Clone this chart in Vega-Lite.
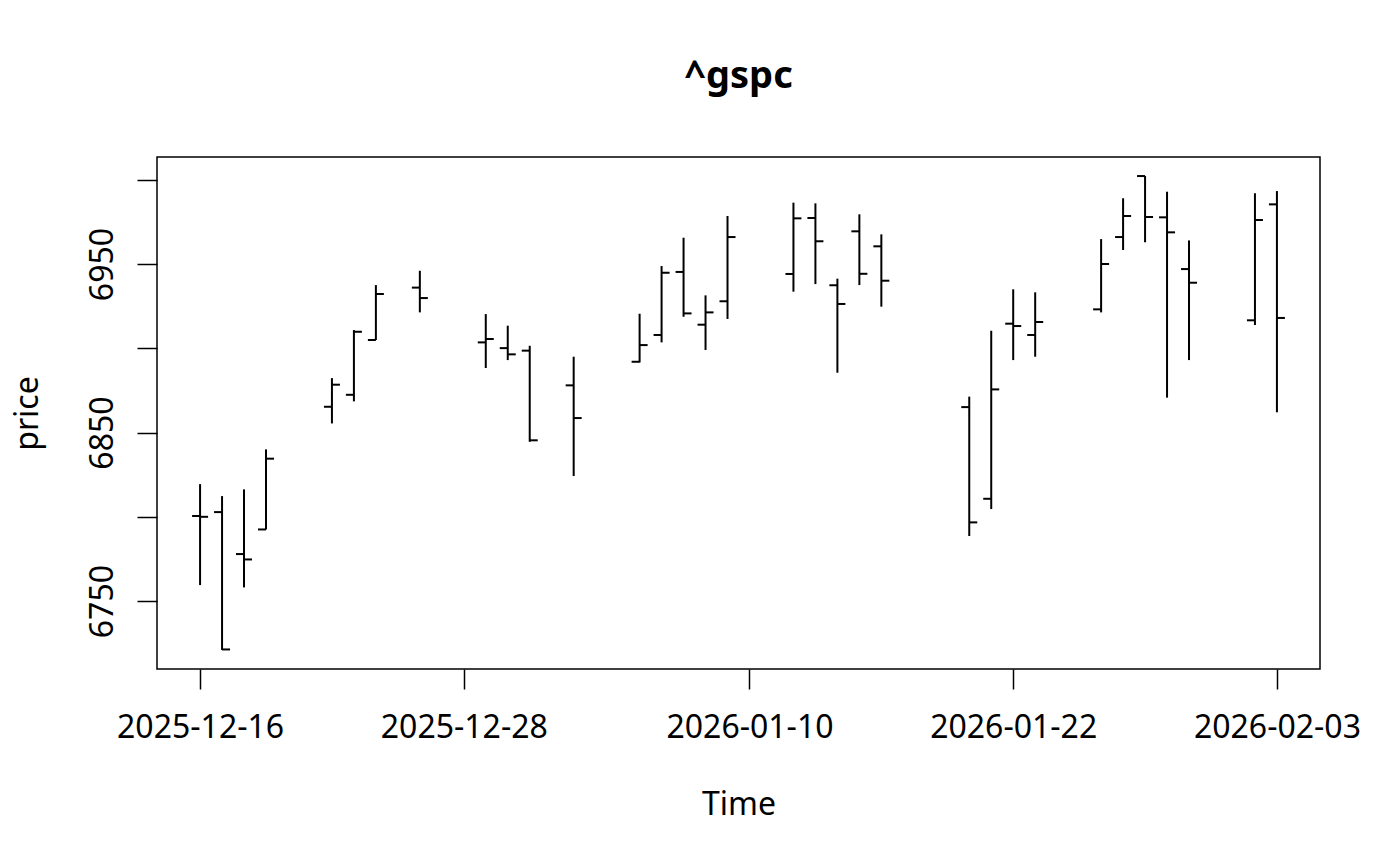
{
  "$schema": "https://vega.github.io/schema/vega-lite/v6.json",
  "width": 1163,
  "height": 512,
  "autosize": {"type": "none"},
  "padding": {"left": 157, "top": 157, "right": 80, "bottom": 197},
  "background": "white",
  "config": {
    "font": "Noto Sans",
    "view": {"stroke": "black", "strokeWidth": 1.5, "fill": "white"}
  },
  "title": {
    "text": "^gspc",
    "font": "Noto Sans",
    "fontSize": 38,
    "fontWeight": "bold",
    "color": "black",
    "anchor": "middle",
    "frame": "group",
    "baseline": "alphabetic",
    "offset": 31
  },
  "data": {
    "values": [
      {"date": "2025-12-16", "open": 6800.5, "high": 6819.4, "low": 6759.5, "close": 6800.0},
      {"date": "2025-12-17", "open": 6802.8, "high": 6812.3, "low": 6721.0, "close": 6721.3},
      {"date": "2025-12-18", "open": 6777.9, "high": 6816.3, "low": 6758.1, "close": 6774.7},
      {"date": "2025-12-19", "open": 6792.5, "high": 6840.0, "low": 6792.5, "close": 6834.5},
      {"date": "2025-12-22", "open": 6865.3, "high": 6882.3, "low": 6855.4, "close": 6878.4},
      {"date": "2025-12-23", "open": 6872.4, "high": 6910.8, "low": 6868.5, "close": 6909.8},
      {"date": "2025-12-24", "open": 6904.9, "high": 6937.5, "low": 6904.9, "close": 6932.2},
      {"date": "2025-12-26", "open": 6936.0, "high": 6946.0, "low": 6921.3, "close": 6929.8},
      {"date": "2025-12-29", "open": 6903.5, "high": 6920.3, "low": 6888.3, "close": 6905.5},
      {"date": "2025-12-30", "open": 6900.1, "high": 6913.4, "low": 6893.0, "close": 6896.4},
      {"date": "2025-12-31", "open": 6898.6, "high": 6901.5, "low": 6844.5, "close": 6845.4},
      {"date": "2026-01-02", "open": 6878.0, "high": 6895.0, "low": 6824.2, "close": 6858.6},
      {"date": "2026-01-05", "open": 6892.0, "high": 6920.5, "low": 6891.6, "close": 6901.9},
      {"date": "2026-01-06", "open": 6907.9, "high": 6948.8, "low": 6903.5, "close": 6944.8},
      {"date": "2026-01-07", "open": 6945.3, "high": 6965.6, "low": 6918.7, "close": 6920.7},
      {"date": "2026-01-08", "open": 6914.0, "high": 6931.4, "low": 6899.0, "close": 6921.3},
      {"date": "2026-01-09", "open": 6927.9, "high": 6978.5, "low": 6917.4, "close": 6966.0},
      {"date": "2026-01-12", "open": 6944.1, "high": 6986.4, "low": 6933.6, "close": 6977.1},
      {"date": "2026-01-13", "open": 6977.3, "high": 6986.0, "low": 6938.1, "close": 6963.5},
      {"date": "2026-01-14", "open": 6937.4, "high": 6941.3, "low": 6885.5, "close": 6926.3},
      {"date": "2026-01-15", "open": 6969.4, "high": 6979.5, "low": 6937.5, "close": 6944.2},
      {"date": "2026-01-16", "open": 6960.5, "high": 6967.6, "low": 6924.7, "close": 6940.1},
      {"date": "2026-01-20", "open": 6865.1, "high": 6871.3, "low": 6788.6, "close": 6796.7},
      {"date": "2026-01-21", "open": 6810.7, "high": 6910.4, "low": 6804.6, "close": 6875.6},
      {"date": "2026-01-22", "open": 6914.6, "high": 6935.0, "low": 6893.0, "close": 6913.2},
      {"date": "2026-01-23", "open": 6907.9, "high": 6933.2, "low": 6895.0, "close": 6915.6},
      {"date": "2026-01-26", "open": 6923.1, "high": 6964.8, "low": 6921.3, "close": 6950.0},
      {"date": "2026-01-27", "open": 6966.0, "high": 6989.0, "low": 6958.3, "close": 6978.5},
      {"date": "2026-01-28", "open": 7002.2, "high": 7002.2, "low": 6962.9, "close": 6977.9},
      {"date": "2026-01-29", "open": 6977.7, "high": 6992.9, "low": 6870.7, "close": 6968.8},
      {"date": "2026-01-30", "open": 6947.0, "high": 6964.0, "low": 6893.0, "close": 6938.9},
      {"date": "2026-02-02", "open": 6916.6, "high": 6992.0, "low": 6913.8, "close": 6976.1},
      {"date": "2026-02-03", "open": 6985.4, "high": 6993.3, "low": 6862.0, "close": 6918.0}
    ]
  },
  "encoding": {
    "x": {
      "field": "date",
      "type": "temporal",
      "title": "Time",
      "scale": {
        "type": "utc",
        "domain": [
          {"year": 2025, "month": 12, "date": 14, "hours": 0, "minutes": 57, "seconds": 36, "utc": true},
          {"year": 2026, "month": 2, "date": 4, "hours": 23, "minutes": 2, "seconds": 24, "utc": true}
        ]
      },
      "axis": {
        "values": [
          {"year": 2025, "month": 12, "date": 16, "utc": true},
          {"year": 2025, "month": 12, "date": 28, "utc": true},
          {"year": 2026, "month": 1, "date": 10, "utc": true},
          {"year": 2026, "month": 1, "date": 22, "utc": true},
          {"year": 2026, "month": 2, "date": 3, "utc": true}
        ],
        "format": "%Y-%m-%d",
        "grid": false,
        "domain": false,
        "ticks": true,
        "tickSize": 20,
        "tickWidth": 1.5,
        "tickColor": "black",
        "labelPadding": 23,
        "labelFont": "Noto Sans",
        "labelFontSize": 32,
        "labelColor": "black",
        "labelAngle": 0,
        "labelFlush": false,
        "labelOverlap": false,
        "titleFont": "Noto Sans",
        "titleFontSize": 32,
        "titleFontWeight": "normal",
        "titleColor": "black",
        "titleX": 581.5,
        "titleY": 145,
        "titleAlign": "center",
        "titleBaseline": "alphabetic"
      }
    }
  },
  "layer": [
    {
      "mark": {"type": "rule", "color": "black", "strokeWidth": 2},
      "encoding": {
        "y": {
          "field": "low",
          "type": "quantitative",
          "title": "price",
          "scale": {"domain": [6709.7, 7013.5], "nice": false, "zero": false},
          "axis": {
            "values": [6750, 6800, 6850, 6900, 6950, 7000],
            "labelExpr": "datum.value % 100 == 50 ? datum.label : ''",
            "format": "d",
            "grid": false,
            "domain": false,
            "tickSize": 20,
            "tickWidth": 1.5,
            "tickColor": "black",
            "labelAngle": -90,
            "labelAlign": "center",
            "labelBaseline": "alphabetic",
            "labelPadding": 25,
            "labelFont": "Noto Sans",
            "labelFontSize": 32,
            "labelColor": "black",
            "labelOverlap": false,
            "labelFlush": false,
            "titleFont": "Noto Sans",
            "titleFontSize": 32,
            "titleFontWeight": "normal",
            "titleColor": "black",
            "titleAngle": -90,
            "titleX": -120,
            "titleY": 256,
            "titleAlign": "center",
            "titleBaseline": "alphabetic"
          }
        },
        "y2": {"field": "high"}
      }
    },
    {
      "mark": {"type": "tick", "orient": "horizontal", "color": "black", "opacity": 1, "size": 8, "thickness": 2, "xOffset": -4},
      "encoding": {
        "y": {"field": "open", "type": "quantitative", "title": "price"}
      }
    },
    {
      "mark": {"type": "tick", "orient": "horizontal", "color": "black", "opacity": 1, "size": 8, "thickness": 2, "xOffset": 4},
      "encoding": {
        "y": {"field": "close", "type": "quantitative", "title": "price"}
      }
    }
  ]
}
